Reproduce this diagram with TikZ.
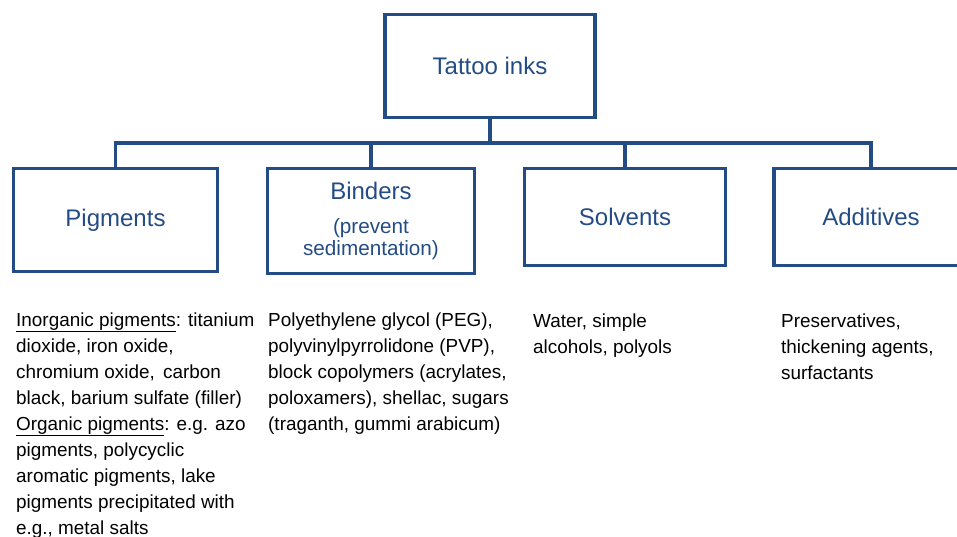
\documentclass[tikz,border=0pt]{standalone}
\usepackage{fontspec}
\setmainfont{Liberation Sans}
\usepackage{xcolor}

\definecolor{inkblue}{RGB}{36,76,132}

\tikzset{
    catbox/.style={
        draw=inkblue,
        line width=3.3pt,
        text=inkblue,
        align=center,
        inner sep=0pt,
        font=\fontsize{24}{28}\selectfont
    },
    desctext/.style={
        anchor=base west,
        align=left,
        inner sep=0pt,
        font=\fontsize{18.9}{26}\selectfont
    }
}

\begin{document}
\begin{tikzpicture}[x=1pt,y=-1pt]

\useasboundingbox (0,0) rectangle (957,537);

\node[catbox, minimum width=210pt, minimum height=103pt] (ink) at (490,66)
{Tattoo inks};

\node[catbox, minimum width=204pt, minimum height=103pt] (pig) at (115.5,220)
{Pigments};

\node[catbox, minimum width=207pt, minimum height=105pt] (bind) at (371,221)
{Binders\\[6pt]
 \fontsize{20.7}{20.5}\selectfont (prevent\\[-6.5pt]
 \fontsize{20.7}{20.5}\selectfont sedimentation)};

\node[catbox, minimum width=201pt, minimum height=97pt] (solv) at (625,217)
{Solvents};

\node[catbox, minimum width=194pt, minimum height=97pt] (add) at (871,217)
{Additives};

% tree lines
\coordinate (bus) at (490,143);
\draw[draw=inkblue, line width=3.3pt] (ink.south) -- (bus);
\draw[draw=inkblue, line width=3.3pt] (pig.north) |- (bus) -| (add.north);
\draw[draw=inkblue, line width=3.3pt] (bind.north) |- (bus);
\draw[draw=inkblue, line width=3.3pt] (solv.north) |- (bus);

% descriptions (placed at the baseline of the last line)
\node[desctext] (pigtxt) at (16,534)
{\underline{Inorganic pigments}: titanium\\
dioxide, iron oxide,\\
chromium oxide,\, carbon\\
black, barium sulfate (filler)\\
\underline{Organic pigments}: e.g. azo\\
pigments, polycyclic\\
aromatic pigments, lake\\
pigments precipitated with\\
e.g., metal salts};

\node[desctext] (bindtxt) at (268,430)
{Polyethylene glycol (PEG),\\
polyvinylpyrrolidone (PVP),\\
block copolymers (acrylates,\\
poloxamers), shellac, sugars\\
(traganth, gummi arabicum)};

\node[desctext] (solvtxt) at (533,353)
{Water, simple\\
alcohols, polyols};

\node[desctext] (addtxt) at (781,379)
{Preservatives,\\
thickening agents,\\
surfactants};

\end{tikzpicture}
\end{document}
